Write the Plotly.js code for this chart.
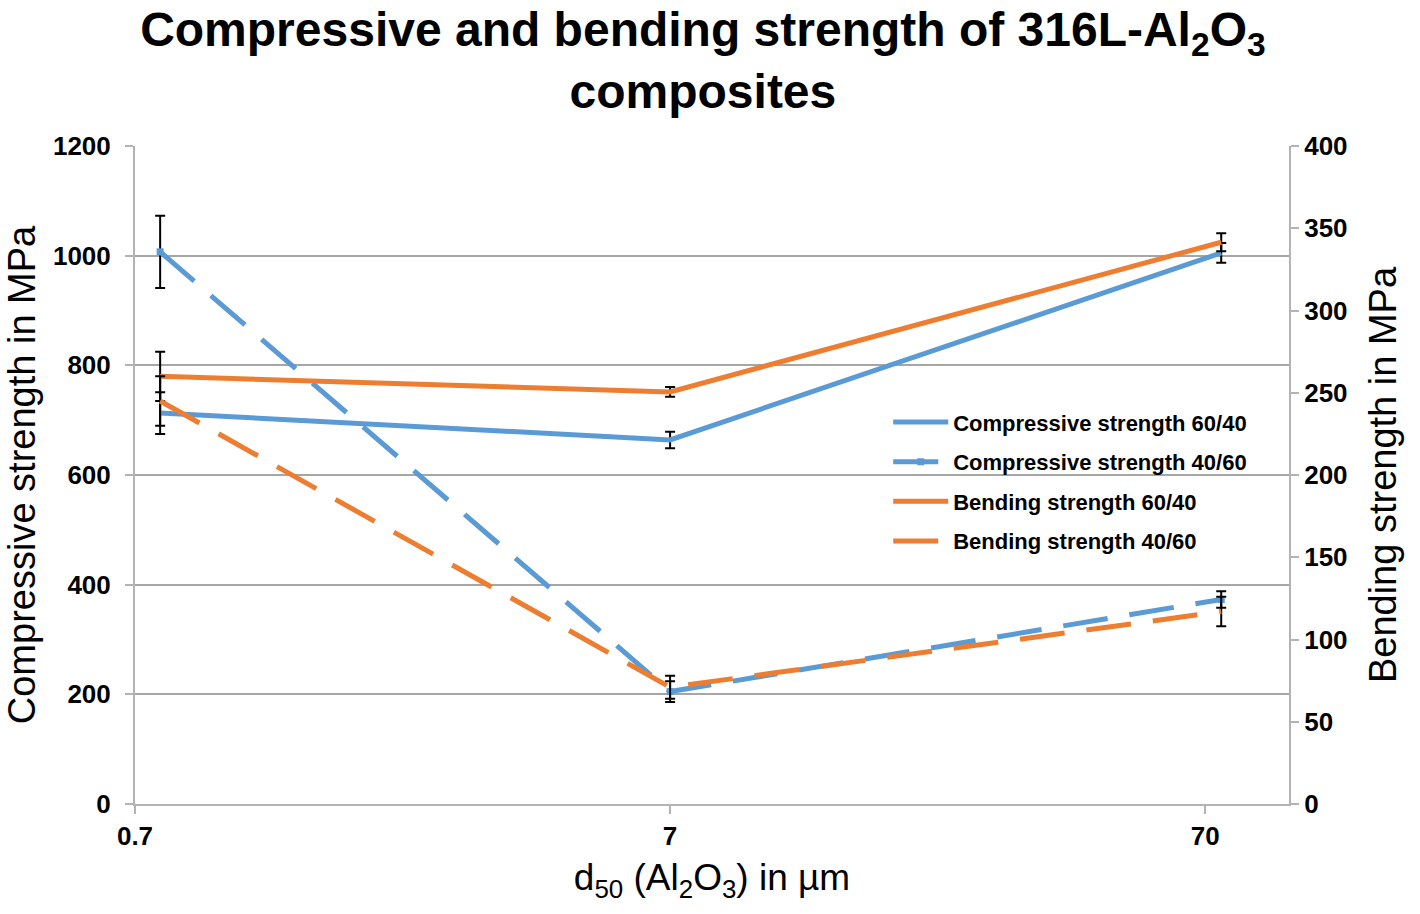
<!DOCTYPE html>
<html>
<head>
<meta charset="utf-8">
<script src="https://cdn.plot.ly/plotly-3.0.1.min.js"></script>
<style>html,body{margin:0;padding:0;background:#fff;}</style>
</head>
<body>
<div id="chart" style="width:1420px;height:914px;"></div>
<script>
// d50 of the Al2O3 powder (µm)
var d50 = [0.78, 7, 75];
var xTicks = [0.7, 7, 70];

// compressive strength, MPa (left axis)
var comp6040 = [713, 664, 1005];
var comp6040Err = [38, 15, 18];
var comp4060 = [1007, 205, 373];
var comp4060Err = [66, 19, 15];

// bending strength, MPa (right axis)
var bend6040 = [260, 250.5, 341.5];
var bend6040Err = [15, 3, 5.5];
var bend4060 = [245, 71, 117];
var bend4060Err = [15, 7, 9];

var blue = '#5B9BD5';
var orange = '#ED7D31';
var dashPat = '45px,22px';

function errs(arr) {
  return {type: 'data', array: arr, visible: true, color: '#000', thickness: 2, width: 5};
}

var trace1 = {
  x: d50, y: comp6040, name: 'Compressive strength 60/40', legendgroup: 'a',
  type: 'scatter', mode: 'lines',
  line: {color: blue, width: 5},
  error_y: errs(comp6040Err)
};
var trace2 = {
  x: d50, y: comp4060, name: 'Compressive strength 40/60', legendgroup: 'b',
  type: 'scatter', mode: 'lines+markers',
  line: {color: blue, width: 5, dash: dashPat},
  marker: {color: blue, size: 7, symbol: 'square'},
  error_y: errs(comp4060Err)
};
var trace3 = {
  x: d50, y: bend6040, name: 'Bending strength 60/40', legendgroup: 'c',
  type: 'scatter', mode: 'lines', yaxis: 'y2',
  line: {color: orange, width: 5},
  error_y: errs(bend6040Err)
};
var trace4 = {
  x: d50, y: bend4060, name: 'Bending strength 40/60', legendgroup: 'd',
  type: 'scatter', mode: 'lines', yaxis: 'y2',
  line: {color: orange, width: 5, dash: dashPat},
  error_y: errs(bend4060Err)
};

var data = [trace1, trace2, trace3, trace4];

var fnt = 'Liberation Sans, Arial, sans-serif';
var axCol = '#b3b3b3';

var layout = {
  width: 1420, height: 914,
  margin: {l: 135, r: 131, t: 146, b: 110},
  paper_bgcolor: '#fff', plot_bgcolor: '#fff',
  font: {family: fnt, color: '#000'},
  title: {
    text: 'Compressive and bending strength of 316L-Al<sub>2</sub>O<sub>3</sub><br>composites',
    font: {family: fnt, size: 48, weight: 'bold', color: '#000'},
    x: 0.495, xanchor: 'center', yref: 'container', y: 0.95, yanchor: 'middle'
  },
  showlegend: true,
  legend: {
    x: 0.6527, y: 0.612, xanchor: 'left', yanchor: 'top',
    font: {family: fnt, size: 22, weight: 'bold', color: '#000'},
    bgcolor: 'rgba(0,0,0,0)', tracegroupgap: 8, traceorder: 'grouped',
    itemwidth: 55
  },
  xaxis: {
    type: 'log',
    range: [Math.log10(0.7), Math.log10(100.4)],
    tickvals: xTicks, ticktext: xTicks.map(String),
    showgrid: false, zeroline: false,
    showline: true, linecolor: axCol, linewidth: 2,
    ticks: 'outside', ticklen: 8, tickwidth: 2, tickcolor: axCol,
    ticklabelstandoff: 0,
    tickfont: {family: fnt, size: 26, weight: 'bold'},
    title: {text: 'd<sub>50</sub> (Al<sub>2</sub>O<sub>3</sub>) in µm', font: {family: fnt, size: 37}, standoff: 14}
  },
  yaxis: {
    range: [0, 1200], dtick: 200,
    showgrid: true, gridcolor: '#a6a6a6', gridwidth: 2, zeroline: false,
    showline: true, linecolor: axCol, linewidth: 2,
    ticks: 'outside', ticklen: 8, tickwidth: 2, tickcolor: axCol,
    ticklabelstandoff: 9,
    tickfont: {family: fnt, size: 26, weight: 'bold'},
    title: {text: 'Compressive strength in MPa', font: {family: fnt, size: 38}, standoff: 6}
  },
  yaxis2: {
    overlaying: 'y', side: 'right',
    range: [0, 400], dtick: 50,
    showgrid: false, zeroline: false,
    showline: true, linecolor: axCol, linewidth: 2,
    ticks: 'outside', ticklen: 8, tickwidth: 2, tickcolor: axCol,
    ticklabelstandoff: 0,
    tickfont: {family: fnt, size: 26, weight: 'bold'},
    title: {text: 'Bending strength in MPa', font: {family: fnt, size: 38}, standoff: 23}
  }
};

Plotly.newPlot('chart', data, layout, {displayModeBar: false});
</script>
</body>
</html>
